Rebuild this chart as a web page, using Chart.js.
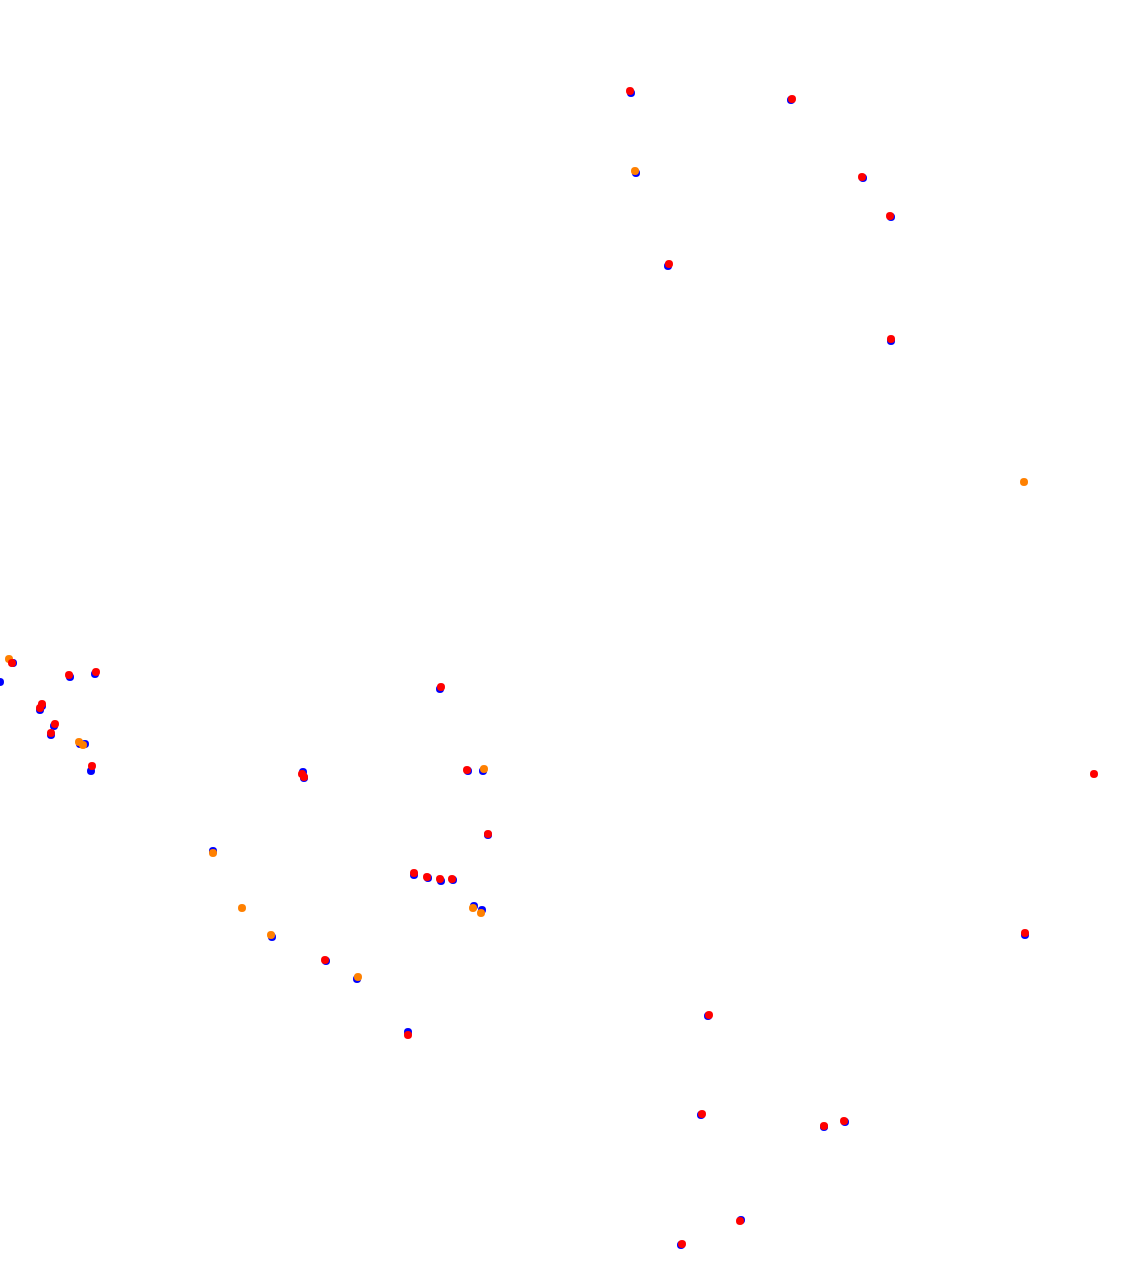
<!DOCTYPE html>
<html>
<head>
<meta charset="utf-8">
<script src="https://cdn.jsdelivr.net/npm/chart.js@4/dist/chart.umd.min.js"></script>
<style>
    html, body { margin: 0; padding: 0; background: #ffffff; }
    canvas { display: block; }
</style>
</head>
<body>
<canvas id="trackChart" width="1143" height="1282"></canvas>
<script>
// positions (x to the right, y downward)
const blueX = [13, 0, 70, 95, 40, 42, 54, 51, 80, 85, 91, 631, 791, 636, 863, 891, 668, 891, 440, 303, 304, 468, 483, 488, 213, 414, 428, 441, 453, 474, 482, 272, 326, 357, 408, 708, 701, 824, 845, 741, 681, 1025];
const blueY = [663, 682, 677, 674, 710, 706, 726, 735, 744, 744, 771, 93, 100, 173, 178, 217, 266, 341, 689, 772, 778, 771, 771, 835, 851, 875, 878, 881, 880, 906, 910, 937, 961, 979, 1032, 1016, 1115, 1127, 1122, 1220, 1245, 935];

const orangeX = [9, 79, 83, 635, 484, 213, 242, 473, 481, 271, 358, 1024];
const orangeY = [659, 742, 745, 171, 769, 853, 908, 908, 913, 935, 977, 482];

const redX = [12, 69, 96, 42, 40, 55, 51, 92, 630, 792, 862, 890, 669, 891, 441, 302, 304, 467, 488, 414, 427, 440, 452, 325, 408, 709, 702, 824, 844, 740, 682, 1094, 1025];
const redY = [663, 675, 672, 704, 708, 724, 733, 766, 91, 99, 177, 216, 264, 339, 687, 774, 777, 770, 834, 873, 877, 879, 879, 960, 1035, 1015, 1114, 1126, 1121, 1221, 1244, 774, 933];

const toPoints = (xs, ys) => xs.map((x, i) => ({ x: x, y: ys[i] }));

const ctx = document.getElementById("trackChart");

new Chart(ctx, {
    type: "scatter",
    data: {
        datasets: [
            {
                label: "red",
                data: toPoints(redX, redY),
                backgroundColor: "#ff0000",
                borderWidth: 0,
                pointRadius: 4,
                order: 1
            },
            {
                label: "orange",
                data: toPoints(orangeX, orangeY),
                backgroundColor: "#ff8000",
                borderWidth: 0,
                pointRadius: 4,
                order: 2
            },
            {
                label: "blue",
                data: toPoints(blueX, blueY),
                backgroundColor: "#0000ff",
                borderWidth: 0,
                pointRadius: 4,
                order: 3
            }
        ]
    },
    options: {
        responsive: false,
        animation: false,
        layout: { padding: 0, autoPadding: false },
        plugins: {
            legend: { display: false },
            tooltip: { enabled: false }
        },
        scales: {
            x: { type: "linear", min: 0, max: 1143, display: false },
            y: { type: "linear", min: 0, max: 1282, reverse: true, display: false }
        }
    }
});
</script>
</body>
</html>
